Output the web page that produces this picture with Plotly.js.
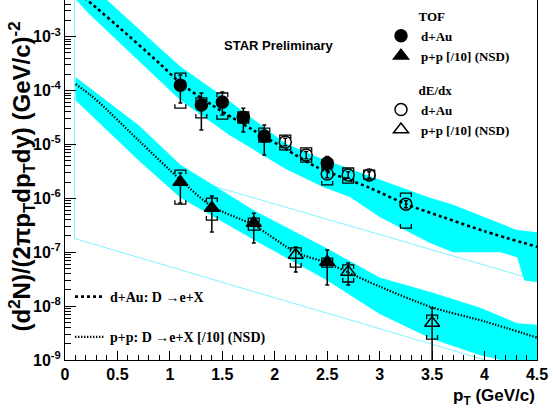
<!DOCTYPE html>
<html><head><meta charset="utf-8">
<script src="https://cdn.plot.ly/plotly-3.0.1.min.js"></script>
<style>html,body{margin:0;padding:0;background:#fff}#chart{width:553px;height:410px}</style>
</head><body><div id="chart"></div>
<script>
// ---- measured points ----
const tofDAu_x = [1.1, 1.3, 1.5, 1.7, 1.9, 2.5];
const tofDAu_y = [1.26e-4, 5.4e-5, 6.1e-5, 3.2e-5, 1.43e-5, 4.5e-6];
const tofDAu_statHi = [1.94e-4, 9.0e-5, 9.4e-5, 4.7e-5, 2.3e-5, 6.0e-6];
const tofDAu_statLo = [5.9e-5, 1.85e-5, 3.5e-5, 1.7e-5, 6.4e-6, 3.3e-6];
const tofDAu_sysHi = [2.11e-4, 7.3e-5, 9.0e-5, 4.0e-5, 2.0e-5, 5.1e-6];
const tofDAu_sysLo = [4.7e-5, 3.1e-5, 2.96e-5, 2.5e-5, 1.11e-5, 3.65e-6];

const dedxDAu_x = [2.1, 2.3, 2.5, 2.7, 2.9, 3.25];
const dedxDAu_y = [1.11e-5, 6.35e-6, 2.82e-6, 2.71e-6, 2.71e-6, 7.8e-7];
const dedxDAu_statHi = [1.3e-5, 7.4e-6, 3.3e-6, 3.1e-6, 3.1e-6, 9.0e-7];
const dedxDAu_statLo = [9.5e-6, 5.4e-6, 2.4e-6, 2.35e-6, 2.35e-6, 6.7e-7];
const dedxDAu_sysHi = [1.49e-5, 8.6e-6, 4.5e-6, 3.65e-6, 3.35e-6, 1.25e-6];
const dedxDAu_sysLo = [7.9e-6, 4.7e-6, 1.77e-6, 1.92e-6, 2.28e-6, 2.8e-7];

const tofPP_x = [1.1, 1.4, 1.8, 2.5];
const tofPP_y = [2.0e-6, 6.6e-7, 3.48e-7, 6.6e-8];
const tofPP_statHi = [2.94e-6, 1.10e-6, 5.3e-7, 1.10e-7];
const tofPP_statLo = [8.2e-7, 2.37e-7, 1.48e-7, 2.46e-8];
const tofPP_sysHi = [3.35e-6, 1.01e-6, 4.3e-7, 7.8e-8];
const tofPP_sysLo = [7.8e-7, 3.95e-7, 2.58e-7, 5.3e-8];

const dedxPP_x = [2.2, 2.7, 3.5];
const dedxPP_y = [8.9e-8, 4.3e-8, 4.85e-9];
const dedxPP_statHi = [1.25e-7, 6.3e-8, 9.2e-9];
const dedxPP_statLo = [4.3e-8, 2.46e-8, 5.3e-10];
const dedxPP_sysHi = [1.20e-7, 5.8e-8, 6.8e-9];
const dedxPP_sysLo = [5.3e-8, 2.8e-8, 2.45e-9];

// ---- model curves ----
const dAuCurve_x = [0.1, 0.3, 0.5, 0.9, 1.1, 1.4, 1.6, 1.8, 2.1, 2.4, 2.9, 3.25, 3.6, 4.0, 4.5];
const dAuCurve_y = [7.4e-3, 3.4e-3, 1.58e-3, 3.2e-4, 1.38e-4, 5.4e-5, 3.1e-5, 1.82e-5, 8.3e-6, 3.8e-6, 1.58e-6, 7.8e-7, 4.5e-7, 2.45e-7, 1.26e-7];
const ppCurve_x = [0.1, 0.24, 0.33, 0.7, 1.1, 1.4, 1.8, 2.2, 2.5, 2.7, 3.0, 3.5, 4.0, 4.5];
const ppCurve_y = [1.32e-4, 8.3e-5, 5.9e-5, 1.2e-5, 2.2e-6, 7.1e-7, 3.16e-7, 1.0e-7, 6.3e-8, 4.2e-8, 2.3e-8, 9.5e-9, 5.2e-9, 2.6e-9];

// ---- uncertainty bands ----
const dAuBandUp_x = [0.1, 0.4, 0.89, 1.1, 1.57, 2.1, 2.43, 3.0, 3.48, 3.7, 4.31, 4.5];
const dAuBandUp_y = [1.26e-2, 4.8e-3, 6.5e-4, 2.8e-4, 6.3e-5, 1.05e-5, 5.6e-6, 2.2e-6, 1.02e-6, 7.6e-7, 2.57e-7, 2.34e-7];
const dAuBandLo_x = [0.1, 0.22, 1.1, 1.57, 2.1, 2.46, 2.72, 3.0, 3.48, 3.7, 4.15, 4.31, 4.38, 4.5];
const dAuBandLo_y = [5.0e-3, 2.75e-3, 6.6e-5, 1.48e-5, 3.55e-6, 1.62e-6, 1.05e-6, 4.5e-7, 1.48e-7, 1.0e-7, 1.0e-7, 8.1e-8, 3.0e-8, 2.8e-8];
const ppBand_x = [0.1, 0.7, 1.1, 1.8, 2.5, 3.0, 3.5, 3.96, 4.31, 4.5];
const ppBandUp_y = [1.78e-4, 2.3e-5, 4.2e-6, 6.0e-7, 1.17e-7, 3.4e-8, 1.78e-8, 9.3e-9, 4.8e-9, 4.5e-9];
const ppBandLo_y = [6.6e-5, 5.1e-6, 1.02e-6, 1.7e-7, 3.0e-8, 7.1e-9, 2.45e-9, 1.23e-9, 8.5e-10, 4.1e-10];

// ---- faint reference lines ----
const guide1_x = [0.09, 0.09, 4.5];
const guide1_y = [1e-2, 1.8e-7, 5.2e-10];
const guide2_x = [0.9, 4.5];
const guide2_y = [3.3e-6, 3.0e-8];

// ---- axis ticks / text ----
const yTickVals = [1e-9, 1e-8, 1e-7, 1e-6, 1e-5, 1e-4, 1e-3];
const yTickText = ['10<sup>-9</sup>', '10<sup>-8</sup>', '10<sup>-7</sup>', '10<sup>-6</sup>', '10<sup>-5</sup>', '10<sup>-4</sup>', '10<sup>-3</sup>'];
const yTitle = '(d<sup>2</sup>N)/(2πp<sub>T</sub>dp<sub>T</sub>dy) (GeV/c)<sup>-2</sup>';
const xTitle = 'p<sub>T</sub> (GeV/c)';
const NB = '\u00a0';
const pad = NB.repeat(10);

const SANS = 'Liberation Sans, Arial, sans-serif';
const SERIF = 'Liberation Serif, Times New Roman, serif';
const CYAN = '#00ffff';
const legFont = {family: SERIF, size: 13, weight: 'bold', color: '#000'};

function band(ux, uy, lx, ly) {
  return {x: ux.concat(lx.slice().reverse()), y: uy.concat(ly.slice().reverse()),
    mode: 'lines', fill: 'toself', fillcolor: CYAN, line: {width: 0},
    hoverinfo: 'skip', showlegend: false};
}
// systematic brackets built from data arrays
function brackets(xs, hi, lo) {
  const dx = 0.052, leg = Math.pow(10, 4 / 53.9);
  const X = [], Y = [];
  xs.forEach((x, i) => {
    X.push(x - dx, x - dx, x + dx, x + dx, null);
    Y.push(hi[i] / leg, hi[i], hi[i], hi[i] / leg, null);
    X.push(x - dx, x - dx, x + dx, x + dx, null);
    Y.push(lo[i] * leg, lo[i], lo[i], lo[i] * leg, null);
  });
  return {x: X, y: Y, mode: 'lines', line: {color: '#000', width: 1.3},
    hoverinfo: 'skip', showlegend: false, connectgaps: false};
}
function points(xs, ys, hi, lo, symbol, size, name, group, gtitle) {
  const t = {x: xs, y: ys, mode: 'markers', name: name, legendgroup: group,
    marker: {symbol: symbol, size: size, color: '#000', line: {color: '#000', width: 1.5}},
    error_y: {type: 'data', symmetric: false,
      array: hi.map((h, i) => h - ys[i]), arrayminus: lo.map((l, i) => ys[i] - l),
      color: '#000', thickness: 1.5, width: 2},
    showlegend: true, hoverinfo: 'skip'};
  if (gtitle) t.legendgrouptitle = {text: pad + gtitle, font: legFont};
  return t;
}

const traces = [
  {x: guide1_x, y: guide1_y, mode: 'lines', line: {color: '#7ff5ff', width: 1}, hoverinfo: 'skip', showlegend: false},
  {x: guide2_x, y: guide2_y, mode: 'lines', line: {color: '#7ff5ff', width: 1}, hoverinfo: 'skip', showlegend: false},
  band(dAuBandUp_x, dAuBandUp_y, dAuBandLo_x, dAuBandLo_y),
  band(ppBand_x, ppBandUp_y, ppBand_x, ppBandLo_y),
  {x: dAuCurve_x, y: dAuCurve_y, mode: 'lines', name: 'd+Au: D →e+X', legend: 'legend2', legendgroup: 'c1',
   line: {color: '#000', width: 2.6, dash: '3px,3px', shape: 'spline', smoothing: 0.8}, hoverinfo: 'skip'},
  {x: ppCurve_x, y: ppCurve_y, mode: 'lines', name: 'p+p: D →e+X [/10] (NSD)', legend: 'legend2', legendgroup: 'c2',
   line: {color: '#000', width: 2.2, dash: '1.4px,1.6px', shape: 'spline', smoothing: 0.8}, hoverinfo: 'skip'},
  brackets(tofDAu_x, tofDAu_sysHi, tofDAu_sysLo),
  brackets(dedxDAu_x, dedxDAu_sysHi, dedxDAu_sysLo),
  brackets(tofPP_x, tofPP_sysHi, tofPP_sysLo),
  brackets(dedxPP_x, dedxPP_sysHi, dedxPP_sysLo),
  points(tofDAu_x, tofDAu_y, tofDAu_statHi, tofDAu_statLo, 'circle', 12, 'd+Au', 'tof', 'TOF'),
  points(tofPP_x, tofPP_y, tofPP_statHi, tofPP_statLo, 'triangle-up', 13, 'p+p [/10] (NSD)', 'tof', null),
  points(dedxDAu_x, dedxDAu_y, dedxDAu_statHi, dedxDAu_statLo, 'circle-open', 12, 'd+Au', 'dedx', 'dE/dx'),
  points(dedxPP_x, dedxPP_y, dedxPP_statHi, dedxPP_statLo, 'triangle-up-open', 13, 'p+p [/10] (NSD)', 'dedx', null)
];

const layout = {
  width: 553, height: 410,
  margin: {l: 65, r: 16, t: 0, b: 50},
  paper_bgcolor: '#fff', plot_bgcolor: '#fff',
  showlegend: true,
  xaxis: {range: [0, 4.5], tickmode: 'linear', tick0: 0, dtick: 0.5,
    ticks: 'inside', ticklen: 9, tickwidth: 1, tickcolor: '#000',
    minor: {dtick: 0.1, ticks: 'inside', ticklen: 5, tickcolor: '#000', showgrid: false},
    showline: true, linecolor: '#000', linewidth: 1, mirror: false,
    showgrid: false, zeroline: false,
    tickfont: {family: SANS, size: 16, weight: 'bold', color: '#000'}},
  yaxis: {type: 'log', range: [-9, -2.32], tickmode: 'array', tickvals: yTickVals, ticktext: yTickText,
    ticks: 'inside', ticklen: 11, tickwidth: 1, tickcolor: '#000',
    minor: {tickmode: 'linear', tick0: 0, dtick: 'D1', ticks: 'inside', ticklen: 6, tickcolor: '#000', showgrid: false},
    showline: true, linecolor: '#000', linewidth: 1, mirror: true,
    showgrid: false, zeroline: false,
    tickfont: {family: SANS, size: 16, weight: 'bold', color: '#000'}},
  legend: {x: (381 - 65) / 472, xanchor: 'left', y: 1 - 1 / 360, yanchor: 'top',
    bgcolor: 'rgba(0,0,0,0)', font: legFont, traceorder: 'grouped', tracegroupgap: 14,
    grouptitlefont: legFont},
  legend2: {x: (70 - 65) / 472, xanchor: 'left', y: (360 - 281) / 360, yanchor: 'top',
    bgcolor: 'rgba(0,0,0,0)', font: {family: SERIF, size: 14, weight: 'bold', color: '#000'},
    traceorder: 'grouped', tracegroupgap: 19},
  annotations: [
    {text: yTitle, xref: 'paper', yref: 'paper', x: (22 - 65) / 472, y: 0.51, xanchor: 'center', yanchor: 'middle',
     textangle: -90, showarrow: false, font: {family: SANS, size: 24, weight: 'bold', color: '#000'}},
    {text: xTitle, xref: 'paper', yref: 'paper', x: 1, y: -(397 - 360) / 360, xanchor: 'right', yanchor: 'middle',
     showarrow: false, font: {family: SANS, size: 17, weight: 'bold', color: '#000'}},
    {text: 'STAR Preliminary', xref: 'paper', yref: 'paper', x: (222 - 65) / 472, y: (360 - 45) / 360,
     xanchor: 'left', yanchor: 'middle', showarrow: false, font: {family: SANS, size: 13, weight: 'bold', color: '#000'}}
  ]
};
Plotly.newPlot('chart', traces, layout, {staticPlot: true, displayModeBar: false});
</script></body></html>
